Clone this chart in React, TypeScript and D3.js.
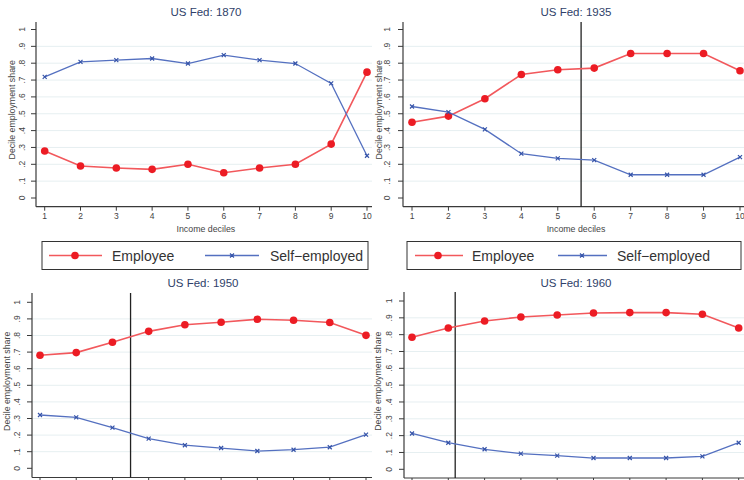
import React, { useEffect, useRef } from "react";
import * as d3 from "d3";

const deciles = [1, 2, 3, 4, 5, 6, 7, 8, 9, 10];
const yTicks = [0, 0.1, 0.2, 0.3, 0.4, 0.5, 0.6, 0.7, 0.8, 0.9, 1];
const yTickLabels = ["0", ".1", ".2", ".3", ".4", ".5", ".6", ".7", ".8", ".9", "1"];

const employee1870 = [0.279, 0.19, 0.178, 0.17, 0.2, 0.15, 0.178, 0.2, 0.32, 0.747];
const self1870 = [0.719, 0.808, 0.818, 0.828, 0.798, 0.848, 0.818, 0.798, 0.68, 0.251];

const employee1935 = [0.45, 0.486, 0.589, 0.733, 0.761, 0.771, 0.858, 0.858, 0.858, 0.755];
const self1935 = [0.543, 0.51, 0.407, 0.263, 0.235, 0.225, 0.138, 0.138, 0.138, 0.243];

const employee1950 = [0.681, 0.697, 0.759, 0.825, 0.865, 0.88, 0.898, 0.892, 0.878, 0.801];
const self1950 = [0.321, 0.307, 0.245, 0.179, 0.139, 0.122, 0.104, 0.112, 0.127, 0.203];

const employee1960 = [0.785, 0.84, 0.881, 0.905, 0.917, 0.929, 0.931, 0.931, 0.921, 0.84];
const self1960 = [0.213, 0.158, 0.119, 0.093, 0.081, 0.067, 0.067, 0.067, 0.077, 0.158];

const RED = "#ec1c24";
const RED_LINE = "#f2585c";
const BLUE = "#3553a8";
const BLUE_LINE = "#5470c0";
const GRID = "#e6eff1";
const AXIS = "#3a3a3a";
const TEXT = "#444";
const TITLE = "#2f3f6a";

interface PanelSpec {
  title: string;
  employee: number[];
  self: number[];
  vline?: number;
  axisX: number;
  xRange: [number, number];
  yRange: [number, number];
  axisTop: number;
  xAxisY: number;
  titleX: number;
  titleY: number;
  yLabelX: number;
  yTitleX: number;
  right: number;
  showXLabels: boolean;
}

const panels: PanelSpec[] = [
  {
    title: "US Fed: 1870", employee: employee1870, self: self1870,
    axisX: 36, xRange: [44.7, 367], yRange: [198, 29.5], axisTop: 22, xAxisY: 206.7,
    titleX: 206, titleY: 16, yLabelX: 22, yTitleX: 12, right: 372, showXLabels: true,
  },
  {
    title: "US Fed: 1935", employee: employee1935, self: self1935, vline: 5.64,
    axisX: 403, xRange: [412, 740], yRange: [198, 29.5], axisTop: 22, xAxisY: 206.7,
    titleX: 576, titleY: 16, yLabelX: 387, yTitleX: 379, right: 744, showXLabels: true,
  },
  {
    title: "US Fed: 1950", employee: employee1950, self: self1950, vline: 3.5,
    axisX: 32, xRange: [40, 366], yRange: [468.3, 302.3], axisTop: 293, xAxisY: 477.5,
    titleX: 203, titleY: 287, yLabelX: 17, yTitleX: 7, right: 372, showXLabels: false,
  },
  {
    title: "US Fed: 1960", employee: employee1960, self: self1960, vline: 2.19,
    axisX: 404, xRange: [412, 738.7], yRange: [469.3, 301], axisTop: 292, xAxisY: 478,
    titleX: 576, titleY: 287, yLabelX: 389, yTitleX: 378, right: 744, showXLabels: false,
  },
];

const legends = [
  { x: 42, w: 326, red: [49, 102, 75], empX: 112, blue: [205, 259, 232], selfX: 270 },
  { x: 407, w: 334, red: [415, 463, 438], empX: 472, blue: [558, 607, 582], selfX: 617 },
];

const xMark = (size: number) => `M${-size},${-size}L${size},${size}M${-size},${size}L${size},${-size}`;

const App: React.FC = () => {
  const svgRef = useRef<SVGSVGElement>(null);

  useEffect(() => {
    if (!svgRef.current) return;
    const svg = d3.select(svgRef.current);
    svg.selectAll("*").remove();
    svg.append("rect").attr("width", 744).attr("height", 480).attr("fill", "#fff");

    panels.forEach((p) => {
      const g = svg.append("g");
      const x = d3.scaleLinear().domain([1, 10]).range(p.xRange);
      const y = d3.scaleLinear().domain([0, 1]).range(p.yRange);

      // gridlines
      g.selectAll(".grid")
        .data(yTicks.filter((t) => t > 0 && t < 1))
        .enter()
        .append("line")
        .attr("x1", p.axisX)
        .attr("x2", p.right)
        .attr("y1", (d) => y(d))
        .attr("y2", (d) => y(d))
        .attr("stroke", GRID)
        .attr("stroke-width", 1);

      // y axis
      g.append("line")
        .attr("x1", p.axisX).attr("x2", p.axisX)
        .attr("y1", p.axisTop).attr("y2", Math.min(p.xAxisY, 480))
        .attr("stroke", AXIS).attr("stroke-width", 1.2);
      yTicks.forEach((t, i) => {
        g.append("line")
          .attr("x1", p.axisX - 5).attr("x2", p.axisX)
          .attr("y1", y(t)).attr("y2", y(t))
          .attr("stroke", AXIS).attr("stroke-width", 1);
        g.append("text")
          .attr("transform", `translate(${p.yLabelX + 3},${y(t)}) rotate(-90)`)
          .attr("text-anchor", "middle")
          .attr("font-family", "Liberation Sans, Arial, sans-serif")
          .attr("font-size", 8.5)
          .attr("fill", TEXT)
          .text(yTickLabels[i]);
      });
      g.append("text")
        .attr("transform", `translate(${p.yTitleX + 3},${(p.yRange[0] + p.yRange[1]) / 2 - 4}) rotate(-90)`)
        .attr("text-anchor", "middle")
        .attr("font-family", "Liberation Sans, Arial, sans-serif")
        .attr("font-size", 8.8)
        .attr("fill", TEXT)
        .text("Decile employment share");

      // x axis
      g.append("line")
        .attr("x1", p.axisX).attr("x2", p.right)
        .attr("y1", p.xAxisY).attr("y2", p.xAxisY)
        .attr("stroke", AXIS).attr("stroke-width", 1.2);
      deciles.forEach((d) => {
        g.append("line")
          .attr("x1", x(d)).attr("x2", x(d))
          .attr("y1", p.xAxisY).attr("y2", p.xAxisY + 4)
          .attr("stroke", AXIS).attr("stroke-width", 1);
        if (p.showXLabels) {
          g.append("text")
            .attr("x", x(d)).attr("y", p.xAxisY + 12)
            .attr("text-anchor", "middle")
            .attr("font-family", "Liberation Sans, Arial, sans-serif")
            .attr("font-size", 8.5)
            .attr("fill", TEXT)
            .text(d);
        }
      });
      if (p.showXLabels) {
        g.append("text")
          .attr("x", (p.xRange[0] + p.xRange[1]) / 2).attr("y", p.xAxisY + 25)
          .attr("text-anchor", "middle")
          .attr("font-family", "Liberation Sans, Arial, sans-serif")
          .attr("font-size", 8.8)
          .attr("fill", TEXT)
          .text("Income deciles");
      }

      // title
      g.append("text")
        .attr("x", p.titleX).attr("y", p.titleY)
        .attr("text-anchor", "middle")
        .attr("font-family", "Liberation Sans, Arial, sans-serif")
        .attr("font-size", 11.5)
        .attr("fill", TITLE)
        .text(p.title);

      // vertical reference line
      if (p.vline !== undefined) {
        g.append("line")
          .attr("x1", x(p.vline)).attr("x2", x(p.vline))
          .attr("y1", p.axisTop).attr("y2", Math.min(p.xAxisY, 480))
          .attr("stroke", "#222").attr("stroke-width", 1.3);
      }

      const line = d3
        .line<number>()
        .x((_, i) => x(deciles[i]))
        .y((v) => y(v));

      // employee series
      g.append("path")
        .attr("d", line(p.employee))
        .attr("fill", "none")
        .attr("stroke", RED_LINE)
        .attr("stroke-width", 1.6);
      g.selectAll(".emp")
        .data(p.employee)
        .enter()
        .append("circle")
        .attr("cx", (_, i) => x(deciles[i]))
        .attr("cy", (v) => y(v))
        .attr("r", 3.8)
        .attr("fill", RED);

      // self-employed series
      g.append("path")
        .attr("d", line(p.self))
        .attr("fill", "none")
        .attr("stroke", BLUE_LINE)
        .attr("stroke-width", 1.3);
      g.selectAll(".self")
        .data(p.self)
        .enter()
        .append("path")
        .attr("transform", (v, i) => `translate(${x(deciles[i])},${y(v)})`)
        .attr("d", xMark(2))
        .attr("stroke", BLUE)
        .attr("stroke-width", 1.2)
        .attr("fill", "none");
    });

    // legends
    legends.forEach((l) => {
      const g = svg.append("g");
      const cy = 255.5;
      g.append("rect")
        .attr("x", l.x).attr("y", 241.5).attr("width", l.w).attr("height", 28)
        .attr("fill", "#fff").attr("stroke", "#333").attr("stroke-width", 1);
      g.append("line")
        .attr("x1", l.red[0]).attr("x2", l.red[1]).attr("y1", cy).attr("y2", cy)
        .attr("stroke", RED_LINE).attr("stroke-width", 1.6);
      g.append("circle").attr("cx", l.red[2]).attr("cy", cy).attr("r", 3.8).attr("fill", RED);
      g.append("text")
        .attr("x", l.empX).attr("y", cy + 5)
        .attr("font-family", "Liberation Sans, Arial, sans-serif")
        .attr("font-size", 14)
        .attr("fill", "#333")
        .text("Employee");
      g.append("line")
        .attr("x1", l.blue[0]).attr("x2", l.blue[1]).attr("y1", cy).attr("y2", cy)
        .attr("stroke", BLUE_LINE).attr("stroke-width", 1.3);
      g.append("path")
        .attr("transform", `translate(${l.blue[2]},${cy})`)
        .attr("d", xMark(2))
        .attr("stroke", BLUE).attr("stroke-width", 1.2);
      g.append("text")
        .attr("x", l.selfX).attr("y", cy + 5)
        .attr("font-family", "Liberation Sans, Arial, sans-serif")
        .attr("font-size", 14)
        .attr("fill", "#333")
        .text("Self\u2212employed");
    });
  }, []);

  return (
    <svg
      ref={svgRef}
      width={744}
      height={480}
      style={{ position: "absolute", left: 0, top: 0, display: "block" }}
    />
  );
};

export default App;
